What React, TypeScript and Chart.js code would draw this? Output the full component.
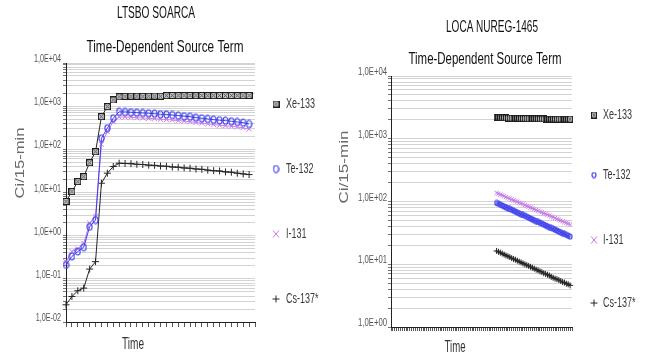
import React, { useEffect, useRef } from 'react';
import { Chart, registerables } from 'chart.js';

Chart.register(...registerables);

// ---------- shared text ----------
const seriesNames = ['Xe-133', 'Te-132', 'I-131', 'Cs-137*'];
const subtitleText = 'Time-Dependent Source Term';
const yTitleText = 'Ci/15-min';
const xTitleText = 'Time';

// ---------- left panel: LTSBO SOARCA (32 time steps) ----------
const soarcaTitle = 'LTSBO SOARCA';
const soarcaSteps = 32;
const soarcaStart = 0;
const soarcaYMin = 1e-2;
const soarcaYMax = 1e4;
const soarcaXe = [6.2, 10.5, 17.9, 23.3, 49, 88, 571, 973, 1390, 1650, 1690, 1700, 1700, 1690, 1700, 1710, 1700, 1760, 1770, 1760, 1760, 1770, 1760, 1770, 1760, 1760, 1770, 1760, 1770, 1760, 1760, 1770];
const soarcaTe = [0.21, 0.33, 0.43, 0.54, 1.6, 2.3, 181, 308, 525, 740, 735, 722, 707, 696, 685, 670, 649, 645, 625, 603, 583, 571, 542, 525, 506, 487, 472, 462, 447, 431, 415, 387];
const soarcaI = [0.25, 0.43, 0.49, 0.67, 1.95, 2.8, 131, 257, 438, 560, 563, 553, 540, 533, 522, 513, 497, 490, 479, 462, 450, 437, 418, 402, 390, 373, 362, 352, 342, 330, 316, 296];
const soarcaCs = [0.025, 0.039, 0.053, 0.061, 0.168, 0.25, 16.4, 28, 40, 47.6, 47, 46.5, 45, 44.5, 43, 42.5, 41, 40.5, 39, 38.5, 37, 36.5, 35, 34.5, 33, 32, 31.5, 30, 29.5, 28, 27, 26];

// ---------- right panel: LOCA NUREG-1465 (96 time steps, release from step 56) ----------
const locaTitle = 'LOCA NUREG-1465';
const locaSteps = 96;
const locaStart = 56;
const locaYMin = 1;
const locaYMax = 1e4;
const locaXe = [2210, 2200, 2190, 2160, 2160, 2150, 2140, 2140, 2130, 2120, 2130, 2120, 2110, 2110, 2100, 2100, 2100, 2090, 2090, 2080, 2090, 2080, 2080, 2070, 2070, 2070, 2060, 2060, 2060, 2050, 2060, 2050, 2050, 2050, 2060, 2050, 2060, 2050, 2055, 2055];
const locaTe = [95, 92, 89.2, 86.4, 83.7, 81.1, 78.6, 76.1, 73.7, 71.4, 69.2, 67.0, 64.9, 62.9, 61.0, 59.1, 57.2, 55.4, 53.7, 52.0, 50.4, 48.8, 47.3, 45.8, 44.4, 43.0, 41.7, 40.4, 39.1, 37.9, 36.7, 35.6, 34.5, 33.4, 32.3, 31.3, 30.4, 29.4, 28.5, 27.6];
const locaI = [137, 133, 129.1, 125.3, 121.6, 118.1, 114.6, 111.3, 108.0, 104.8, 101.8, 98.8, 95.9, 93.1, 90.3, 87.7, 85.1, 82.6, 80.2, 77.9, 75.6, 73.4, 71.2, 69.1, 67.1, 65.1, 63.2, 61.4, 59.6, 57.8, 56.1, 54.5, 52.9, 51.3, 49.8, 48.4, 47.0, 45.6, 44.3, 43.0];
const locaCs = [16.3, 15.8, 15.3, 14.8, 14.3, 13.8, 13.4, 13.0, 12.5, 12.1, 11.8, 11.4, 11.0, 10.7, 10.3, 10.0, 9.7, 9.4, 9.1, 8.8, 8.5, 8.2, 8.0, 7.7, 7.5, 7.2, 7.0, 6.8, 6.6, 6.3, 6.1, 5.9, 5.8, 5.6, 5.4, 5.2, 5.1, 4.9, 4.8, 4.6];

// ---------- styles ----------
const seriesColors = ['#262626', '#3c3cee', '#c77be6', '#262626'];
const FONT = '"Liberation Sans", Arial, sans-serif';

function formatDecade(v: number) {
  const e = Math.round(Math.log10(v));
  return `1,0E${e < 0 ? '-' : '+'}${String(Math.abs(e)).padStart(2, '0')}`;
}

function isDecade(v: number) {
  const l = Math.log10(v);
  return Math.abs(l - Math.round(l)) < 1e-9;
}

function squareXMark(w: number, h: number) {
  const c = document.createElement('canvas');
  c.width = w;
  c.height = h;
  const g = c.getContext('2d')!;
  g.fillStyle = '#c4c4c4';
  g.fillRect(0, 0, w, h);
  g.strokeStyle = '#1e1e1e';
  g.lineWidth = 1;
  g.strokeRect(0.5, 0.5, w - 1, h - 1);
  g.strokeStyle = '#555';
  g.beginPath();
  g.moveTo(1.5, 1.5);
  g.lineTo(w - 1.5, h - 1.5);
  g.moveTo(w - 1.5, 1.5);
  g.lineTo(1.5, h - 1.5);
  g.stroke();
  return c;
}

function ellipseMark(w: number, h: number, color: string) {
  const c = document.createElement('canvas');
  c.width = w + 2;
  c.height = h + 2;
  const g = c.getContext('2d')!;
  g.strokeStyle = color;
  g.lineWidth = 1.2;
  g.beginPath();
  g.ellipse((w + 2) / 2, (h + 2) / 2, w / 2, h / 2, 0, 0, Math.PI * 2);
  g.stroke();
  return c;
}

function drawText(
  ctx: CanvasRenderingContext2D,
  text: string,
  x: number,
  y: number,
  size: number,
  sx: number,
  color: string,
  align: CanvasTextAlign = 'center',
  rotate = false,
  sy = 1
) {
  ctx.save();
  ctx.font = `${size}px ${FONT}`;
  ctx.translate(x, y);
  if (rotate) ctx.rotate(-Math.PI / 2);
  ctx.scale(sx, sy);
  ctx.fillStyle = color;
  ctx.textBaseline = 'middle';
  ctx.textAlign = align;
  ctx.fillText(text, 0, 0);
  ctx.restore();
}

function fitScale(ctx: CanvasRenderingContext2D, text: string, size: number, width: number) {
  ctx.save();
  ctx.font = `${size}px ${FONT}`;
  const w = ctx.measureText(text).width;
  ctx.restore();
  return width / w;
}

type Panel = {
  width: number;
  steps: number;
  start: number;
  yMin: number;
  yMax: number;
  series: number[][];
  title: string;
  pad: { top: number; right: number };
  yWidth: number;
  xHeight: number;
  small: boolean;
  text: {
    title: [number, number, number];
    subtitle: [number, number, number];
    yTitle: [number, number, number];
    xTitle: [number, number, number];
    tickRight: number;
    tickWidth: number;
    legendIconX: number;
    legendTextX: number;
    legendYs: number[];
  };
};

function buildChart(canvas: HTMLCanvasElement, p: Panel) {
  const sq = p.small ? squareXMark(6, 7) : squareXMark(7, 7);
  const circ = p.small ? ellipseMark(4, 5, seriesColors[1]) : ellipseMark(5, 7, seriesColors[1]);
  const styles: any[] = [sq, circ, 'crossRot', 'cross'];
  const radii = p.small ? [3, 3, 3, 3] : [3.5, 3.5, 3.5, 3.5];

  const datasets = p.series.map((vals, k) => ({
    label: seriesNames[k],
    data: vals.map((v, i) => ({ x: p.start + i, y: v })),
    borderColor: seriesColors[k],
    borderWidth: 1,
    pointStyle: styles[k],
    pointRadius: radii[k],
    pointBorderColor: seriesColors[k],
    pointBackgroundColor: 'rgba(0,0,0,0)',
    pointBorderWidth: 1,
    tension: 0,
    clip: false as any,
  }));

  const textPlugin = {
    id: 'panelText',
    afterDraw(chart: any) {
      const ctx: CanvasRenderingContext2D = chart.ctx;
      const t = p.text;
      // titles
      drawText(ctx, p.title, t.title[0], t.title[1], 17, fitScale(ctx, p.title, 17, t.title[2]), '#111');
      drawText(ctx, subtitleText, t.subtitle[0], t.subtitle[1], 17, fitScale(ctx, subtitleText, 17, t.subtitle[2]), '#111');
      // axis titles
      drawText(ctx, yTitleText, t.yTitle[0], t.yTitle[1], 16, fitScale(ctx, yTitleText, 16, t.yTitle[2]), '#6a6a6a', 'center', true, 0.8);
      drawText(ctx, xTitleText, t.xTitle[0], t.xTitle[1], 16, fitScale(ctx, xTitleText, 16, t.xTitle[2]), '#333');
      // y tick labels (decades only)
      const ys = chart.scales.y;
      const tsx = fitScale(ctx, '1,0E+04', 11, t.tickWidth);
      ys.ticks.forEach((tk: any) => {
        if (!isDecade(tk.value)) return;
        const py = ys.getPixelForValue(tk.value) - 4;
        drawText(ctx, formatDecade(tk.value), t.tickRight, py, 11, tsx, '#555', 'right');
      });
      // legend
      const lsx = fitScale(ctx, 'Xe-133', 14, 29);
      seriesNames.forEach((name, k) => {
        const y = t.legendYs[k];
        const x = t.legendIconX;
        ctx.save();
        if (k === 0) {
          ctx.drawImage(sq, x - sq.width / 2, y - sq.height / 2);
        } else if (k === 1) {
          ctx.drawImage(circ, x - circ.width / 2, y - circ.height / 2);
        } else {
          ctx.strokeStyle = seriesColors[k];
          ctx.lineWidth = 1;
          ctx.beginPath();
          if (k === 2) {
            ctx.moveTo(x - 3, y - 3.5);
            ctx.lineTo(x + 3, y + 3.5);
            ctx.moveTo(x + 3, y - 3.5);
            ctx.lineTo(x - 3, y + 3.5);
          } else {
            ctx.moveTo(x - 3.5, y);
            ctx.lineTo(x + 3.5, y);
            ctx.moveTo(x, y - 3.5);
            ctx.lineTo(x, y + 3.5);
          }
          ctx.stroke();
        }
        ctx.restore();
        drawText(ctx, name, t.legendTextX, y, 14, lsx, '#3a3a3a', 'left');
      });
    },
  };

  return new Chart(canvas, {
    type: 'line',
    data: { datasets },
    options: {
      responsive: false,
      animation: false,
      devicePixelRatio: 1,
      layout: { padding: { left: 0, top: p.pad.top, right: p.pad.right, bottom: 0 } },
      plugins: {
        legend: { display: false },
        title: { display: false },
        tooltip: { enabled: false },
      },
      events: [],
      scales: {
        x: {
          type: 'linear',
          min: 0,
          max: p.steps,
          afterFit: (s: any) => {
            s.height = p.xHeight;
          },
          ticks: { display: false, stepSize: 1 },
          grid: {
            drawOnChartArea: false,
            drawTicks: true,
            tickLength: p.small ? 4 : 5,
            color: '#555',
            lineWidth: 1,
          },
          border: { display: true, color: '#222', width: 1 },
        },
        y: {
          type: 'logarithmic',
          min: p.yMin,
          max: p.yMax,
          afterFit: (s: any) => {
            s.width = p.yWidth;
          },
          afterBuildTicks: (s: any) => {
            s.ticks = s.ticks.filter((tk: any) => {
              const m = tk.value / Math.pow(10, Math.floor(Math.log10(tk.value) + 1e-9));
              return Math.abs(m - Math.round(m)) < 1e-6;
            });
          },
          ticks: { display: false, autoSkip: false },
          grid: { color: '#d3d3d3', lineWidth: 1, tickLength: 3, tickColor: '#777' },
          border: { display: true, color: '#222', width: 1 },
        },
      },
    } as any,
    plugins: [textPlugin],
  });
}

const leftPanel: Panel = {
  width: 330,
  steps: soarcaSteps,
  start: soarcaStart,
  yMin: soarcaYMin,
  yMax: soarcaYMax,
  series: [soarcaXe, soarcaTe, soarcaI, soarcaCs],
  title: soarcaTitle,
  pad: { top: 63, right: 75 },
  yWidth: 66,
  xHeight: 34,
  small: false,
  text: {
    title: [156, 13, 78],
    subtitle: [165, 47, 157],
    yTitle: [20, 163, 71],
    xTitle: [133, 345, 22],
    tickRight: 61,
    tickWidth: 27,
    legendIconX: 276,
    legendTextX: 286,
    legendYs: [104, 169, 234, 299],
  },
};

const rightPanel: Panel = {
  width: 315,
  steps: locaSteps,
  start: locaStart,
  yMin: locaYMin,
  yMax: locaYMax,
  series: [locaXe, locaTe, locaI, locaCs],
  title: locaTitle,
  pad: { top: 76, right: 73 },
  yWidth: 61,
  xHeight: 29,
  small: true,
  text: {
    title: [162, 27, 92],
    subtitle: [155, 59, 153],
    yTitle: [14, 167, 73],
    xTitle: [125, 348, 21],
    tickRight: 57,
    tickWidth: 29,
    legendIconX: 264,
    legendTextX: 273,
    legendYs: [115, 175, 240, 303],
  },
};

function PanelChart({ panel }: { panel: Panel }) {
  const ref = useRef<HTMLCanvasElement | null>(null);
  useEffect(() => {
    if (!ref.current) return;
    const chart = buildChart(ref.current, panel);
    return () => chart.destroy();
  }, [panel]);
  return (
    <canvas
      ref={ref}
      width={panel.width}
      height={356}
      style={{ display: 'block', width: panel.width, height: 356 }}
    />
  );
}

export default function App() {
  return (
    <div
      style={{
        position: 'fixed',
        left: 0,
        top: 0,
        width: 645,
        height: 356,
        background: '#ffffff',
        display: 'flex',
        overflow: 'hidden',
      }}
    >
      <PanelChart panel={leftPanel} />
      <PanelChart panel={rightPanel} />
    </div>
  );
}
